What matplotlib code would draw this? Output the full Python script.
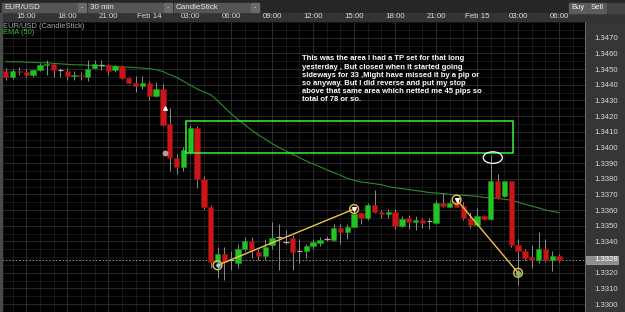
import matplotlib.pyplot as plt
from matplotlib.patches import Rectangle, Ellipse
from matplotlib.ticker import FormatStrFormatter
import numpy as np

plt.rcParams['font.family'] = ['Liberation Sans', 'DejaVu Sans']

# 30 min EUR/USD candles, Feb 13 13:30 -> Feb 15 06:00
opens = [1.34486, 1.34451, 1.34490, 1.34480, 1.34459, 1.34496, 1.34523, 1.34529, 1.34496, 1.34490,
         1.34455, 1.34465, 1.34451, 1.34507, 1.34527, 1.34523, 1.34492, 1.34517, 1.34441, 1.34414,
         1.34390, 1.34414, 1.34331, 1.34373, 1.34151, 1.33935, 1.33873, 1.33972, 1.34126, 1.33801,
         1.33622, 1.33272, 1.33317, 1.33280, 1.33262, 1.33350, 1.33406, 1.33330, 1.33309, 1.33375,
         1.33427, 1.33398, 1.33420, 1.33338, 1.33338, 1.33371, 1.33391, 1.33416, 1.33412, 1.33484,
         1.33461, 1.33494, 1.33581, 1.33550, 1.33632, 1.33591, 1.33577, 1.33587, 1.33498, 1.33550,
         1.33527, 1.33540, 1.33529, 1.33515, 1.33646, 1.33622, 1.33643, 1.33626, 1.33550, 1.33502,
         1.33564, 1.33544, 1.33786, 1.33688, 1.33786, 1.33379, 1.33338, 1.33303, 1.33282, 1.33354,
         1.33282, 1.33309]
highs = [1.34509, 1.34502, 1.34515, 1.34502, 1.34502, 1.34540, 1.34558, 1.34540, 1.34509, 1.34509,
         1.34490, 1.34484, 1.34558, 1.34558, 1.34558, 1.34533, 1.34527, 1.34527, 1.34447, 1.34455,
         1.34453, 1.34424, 1.34416, 1.34404, 1.34249, 1.33961, 1.34002, 1.34146, 1.34138, 1.33817,
         1.33632, 1.33367, 1.33367, 1.33342, 1.33385, 1.33428, 1.33428, 1.33354, 1.33416, 1.33527,
         1.33509, 1.33472, 1.33441, 1.33416, 1.33385, 1.33416, 1.33428, 1.33435, 1.33509, 1.33509,
         1.33509, 1.33607, 1.33589, 1.33644, 1.33729, 1.33601, 1.33607, 1.33607, 1.33560, 1.33570,
         1.33560, 1.33550, 1.33552, 1.33663, 1.33706, 1.33663, 1.33667, 1.33653, 1.33591, 1.33612,
         1.33570, 1.33953, 1.33830, 1.33786, 1.33786, 1.33416, 1.33354, 1.33375, 1.33459, 1.33416,
         1.33336, 1.33323]
lows = [1.34430, 1.34435, 1.34459, 1.34447, 1.34447, 1.34490, 1.34465, 1.34447, 1.34447, 1.34428,
        1.34428, 1.34428, 1.34422, 1.34502, 1.34496, 1.34465, 1.34484, 1.34435, 1.34404, 1.34354,
        1.34373, 1.34301, 1.34323, 1.34138, 1.33848, 1.33830, 1.33848, 1.33959, 1.33743, 1.33607,
        1.33231, 1.33169, 1.33157, 1.33219, 1.33231, 1.33336, 1.33293, 1.33280, 1.33280, 1.33354,
        1.33219, 1.33385, 1.33219, 1.33262, 1.33293, 1.33354, 1.33373, 1.33404, 1.33404, 1.33385,
        1.33416, 1.33490, 1.33509, 1.33540, 1.33581, 1.33550, 1.33550, 1.33478, 1.33490, 1.33478,
        1.33472, 1.33488, 1.33478, 1.33509, 1.33622, 1.33620, 1.33620, 1.33540, 1.33488, 1.33498,
        1.33540, 1.33540, 1.33673, 1.33683, 1.33365, 1.33120, 1.33282, 1.33231, 1.33262, 1.33272,
        1.33214, 1.33268]
closes = [1.34451, 1.34490, 1.34480, 1.34461, 1.34492, 1.34527, 1.34533, 1.34496, 1.34496, 1.34455,
          1.34465, 1.34455, 1.34502, 1.34531, 1.34527, 1.34488, 1.34517, 1.34441, 1.34414, 1.34390,
          1.34414, 1.34331, 1.34373, 1.34146, 1.33935, 1.33873, 1.33982, 1.34126, 1.33801, 1.33622,
          1.33272, 1.33317, 1.33272, 1.33280, 1.33350, 1.33406, 1.33348, 1.33309, 1.33367, 1.33420,
          1.33427, 1.33398, 1.33334, 1.33338, 1.33371, 1.33396, 1.33412, 1.33416, 1.33484, 1.33461,
          1.33494, 1.33577, 1.33550, 1.33632, 1.33591, 1.33575, 1.33587, 1.33498, 1.33544, 1.33525,
          1.33540, 1.33519, 1.33529, 1.33646, 1.33626, 1.33643, 1.33622, 1.33550, 1.33502, 1.33564,
          1.33544, 1.33786, 1.33680, 1.33786, 1.33379, 1.33338, 1.33297, 1.33282, 1.33354, 1.33282,
          1.33307, 1.33282]
ema50 = [1.34546, 1.34546, 1.34546, 1.34543, 1.34543, 1.34540, 1.34540, 1.34536, 1.34533, 1.34530,
         1.34527, 1.34527, 1.34524, 1.34524, 1.34521, 1.34518, 1.34518, 1.34515, 1.34512, 1.34509,
         1.34506, 1.34502, 1.34496, 1.34484, 1.34465, 1.34447, 1.34422, 1.34398, 1.34373, 1.34354,
         1.34336, 1.34299, 1.34256, 1.34215, 1.34178, 1.34144, 1.34110, 1.34079, 1.34052, 1.34024,
         1.33999, 1.33978, 1.33956, 1.33935, 1.33913, 1.33894, 1.33876, 1.33857, 1.33839, 1.33823,
         1.33802, 1.33790, 1.33780, 1.33774, 1.33768, 1.33762, 1.33750, 1.33743, 1.33737, 1.33731,
         1.33725, 1.33719, 1.33712, 1.33709, 1.33706, 1.33700, 1.33697, 1.33694, 1.33691, 1.33688,
         1.33681, 1.33678, 1.33675, 1.33669, 1.33663, 1.33651, 1.33638, 1.33626, 1.33614, 1.33601,
         1.33592, 1.33583]

time_ticks = [3, 9, 15, 21, 27, 33, 39, 45, 51, 57, 63, 69, 75, 81]
time_labels = ['15:00', '18:00', '21:00', 'Feb 14', '03:00', '06:00', '09:00', '12:00',
               '15:00', '18:00', '21:00', 'Feb 15', '03:00', '06:00']
price_ticks = [1.3300, 1.3310, 1.3320, 1.3340, 1.3350, 1.3360, 1.3370, 1.3380, 1.3390,
               1.3400, 1.3410, 1.3420, 1.3430, 1.3440, 1.3450, 1.3460, 1.3470]

# drawn annotations (index, price)
tp_zone = (26.4, 74.2, 1.33965, 1.34169)
swing_up = ([31, 51], [1.33248, 1.33607])
swing_down = ([66, 75], [1.33667, 1.33200])
spike_mark = (71.3, 1.33935)
note = ("This was the area I had a TP set for that long\n"
        "yesterday , But closed when it started going\n"
        "sideways for 33 ,Might have missed it by a pip or\n"
        "so anyway. But I did reverse and put my stop\n"
        "above that same area which netted me 45 pips so\n"
        "total of 78 or so.")

W, H = 625, 312
fig = plt.figure(figsize=(6.25, 3.12), dpi=100)
fig.patch.set_facecolor('#363636')

# top toolbar
fig.add_artist(Rectangle((0, 1 - 13 / H), 1, 13 / H, transform=fig.transFigure, color='#262626', zorder=0))
for x0, x1, lbl in [(2, 77, 'EUR/USD'), (88, 163, '30 min'), (174, 250, 'CandleStick')]:
    fig.add_artist(Rectangle((x0 / W, 1 - 12 / H), (x1 - x0) / W, 9.5 / H, transform=fig.transFigure,
                             color='#555555', zorder=1))
    fig.add_artist(Rectangle(((x1 + 1) / W, 1 - 12 / H), 8 / W, 9.5 / H, transform=fig.transFigure,
                             color='#6a6a6a', zorder=1))
    fig.text((x0 + 2) / W, 1 - 7.3 / H, lbl, color='#e8e8e8', fontsize=5.8, va='center', zorder=2)
    fig.text((x1 + 5) / W, 1 - 7.3 / H, '-', color='#dddddd', fontsize=5, va='center', ha='center', zorder=2)
for x0, x1, lbl in [(569, 587, 'Buy'), (588, 606, 'Sell')]:
    fig.add_artist(Rectangle((x0 / W, 1 - 12.7 / H), (x1 - x0) / W, 10 / H, transform=fig.transFigure,
                             color='#5c5c5c', zorder=1))
    fig.text((x0 + x1) / 2 / W, 1 - 7.7 / H, lbl, color='#f0f0f0', fontsize=5.6, va='center', ha='center', zorder=2)
fig.add_artist(Rectangle((607 / W, 1 - 12.7 / H), 18 / W, 10 / H, transform=fig.transFigure,
                         color='#444444', zorder=1))
# left border
fig.add_artist(Rectangle((0, 0), 2 / W, 1 - 13 / H, transform=fig.transFigure, color='#4a4a4a', zorder=1))

ax = fig.add_axes([2 / W, 0, 583 / W, 290 / H])
ax.set_facecolor('black')

x = np.arange(len(closes))
o = np.array(opens)
c = np.array(closes)
up = c > o
down = c < o
flat = c == o

ax.vlines(x, lows, highs, color='#8c8c8c', lw=0.7, zorder=3)
ax.bar(x[up], (c - o)[up], bottom=o[up], width=0.78, color='#22c422', edgecolor='#1a9a1a', lw=0.4, zorder=4)
ax.bar(x[down], (o - c)[down], bottom=c[down], width=0.78, color='#cc1515', edgecolor='#8a1010', lw=0.4, zorder=4)
ax.hlines(c[flat], x[flat] - 0.4, x[flat] + 0.4, color='#b4b4b4', lw=0.9, zorder=4)

ax.plot(x, ema50, color='#2e8a2e', lw=0.8, zorder=2)

# current price line
ax.axhline(closes[-1], color='#a0a0a0', lw=0.6, ls=(0, (2, 2)), zorder=2)

# markings
ax.add_patch(Rectangle((tp_zone[0], tp_zone[2]), tp_zone[1] - tp_zone[0], tp_zone[3] - tp_zone[2],
                       fill=False, edgecolor='#3cf03c', lw=1.1, zorder=6))
ax.add_patch(Ellipse(spike_mark, 2.8, 0.00074, fill=False, edgecolor='white', lw=0.9, zorder=6))
for xs, ys in [swing_up, swing_down]:
    ax.plot(xs, ys, color='#f2c24e', lw=1.0, zorder=6)
    ax.scatter(xs, ys, s=40, facecolors='none', edgecolors='#f2c24e', lw=1.0, zorder=7)
ax.scatter([swing_up[0][0]], [swing_up[1][0]], s=5, color='#8fd0ff', zorder=8)
ax.scatter([swing_up[0][1], swing_down[0][0]], [swing_up[1][1], swing_down[1][0]], s=7, marker='v', color='white', zorder=8)
ax.scatter([swing_down[0][1]], [swing_down[1][1]], s=8, color='#7ac27a', zorder=8)
ax.scatter([23.3], [1.34249], s=6, marker='^', color='white', zorder=8)
ax.scatter([23.3], [1.33965], s=10, color='#b0a0a0', zorder=8)

fig.text(302 / W, 1 - 55.5 / H, note, color='white', fontsize=5.5, fontweight='bold',
         va='top', ha='left', linespacing=1.22, zorder=9)

ax.set_xlim(-0.55, 84.8)
ax.set_ylim(1.32972, 1.34762)

ax.set_xticks(time_ticks)
ax.set_xticklabels(time_labels)
ax.set_xticks(np.arange(1, 85, 2), minor=True)
ax.set_yticks(price_ticks)
ax.set_yticks(np.arange(1.3295, 1.3480, 0.0005), minor=True)
ax.yaxis.set_major_formatter(FormatStrFormatter('%.4f'))
ax.xaxis.tick_top()
ax.yaxis.tick_right()
ax.tick_params(axis='x', which='both', length=0, pad=1.2, labelsize=5.7, labelcolor='#dcdcdc')
ax.tick_params(axis='y', which='both', length=0, pad=6.5, labelsize=5.6, labelcolor='#d8d8d8')
ax.grid(True, which='major', color='#303030', lw=0.6)
ax.grid(True, which='minor', color='#202020', lw=0.5)
for s in ax.spines.values():
    s.set_visible(False)
ax.spines['right'].set_visible(True)
ax.spines['right'].set_color('#666666')

# time axis row
fig.add_artist(Rectangle((0, 290 / H), 1, 9 / H, transform=fig.transFigure, color='#333333', zorder=0))

# current price tag
ax.add_patch(Rectangle((1.0015, closes[-1] - 0.00028), 32 / 583, 0.00056,
                       transform=ax.get_yaxis_transform(), clip_on=False,
                       facecolor='#8e8e8e', edgecolor='#b0b0b0', lw=0.5, zorder=10))
ax.text(1.0 + 9 / 583, closes[-1], '%.4f' % closes[-1], transform=ax.get_yaxis_transform(),
        color='white', fontsize=5.6, va='center', ha='left', zorder=11, clip_on=False)

ax.text(0.002, 1 - 4 / 290, 'EUR/USD (CandleStick)', transform=ax.transAxes, color='#a8a8a8',
        fontsize=5.4, va='center', ha='left', zorder=9)
ax.text(0.002, 1 - 11 / 290, 'EMA (50)', transform=ax.transAxes, color='#2fc42f',
        fontsize=5.4, va='center', ha='left', zorder=9)

fig.savefig('out.png', dpi=100, facecolor=fig.get_facecolor())
